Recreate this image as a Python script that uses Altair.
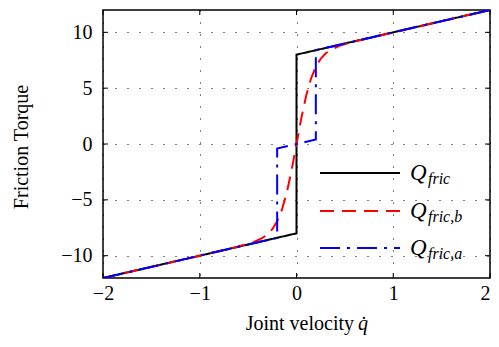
import altair as alt
import pandas as pd

# ---- data ----
q_fric = [-2.0, 0.0, 0.0, 2.0]
t_fric = [-12.0, -8.0, 8.0, 12.0]

q_b = [-2.0, -1.0, -0.6, -0.45, -0.35, -0.3, -0.25, -0.2, -0.15, -0.1, -0.05, 0.0,
       0.05, 0.1, 0.15, 0.2, 0.25, 0.3, 0.35, 0.45, 0.6, 1.0, 2.0]
t_b = [-12.0, -10.0, -9.18, -8.81, -8.41, -8.1, -7.63, -6.92, -5.86, -4.33, -2.32, 0.0,
       2.32, 4.33, 5.86, 6.92, 7.63, 8.1, 8.41, 8.81, 9.18, 10.0, 12.0]

q_a = [-2.0, -0.2, -0.2, 0.2, 0.2, 2.0]
t_a = [-12.0, -8.4, -0.4, 0.4, 8.4, 12.0]

x_ticks = [-2, -1, 0, 1, 2]
y_ticks = [-10, -5, 0, 5, 10]

legend_main = ["Q", "Q", "Q"]
legend_sub = ["fric", "fric,b", "fric,a"]
series_colors = ["#000000", "#ff0000", "#0000ff"]
series_dash = [[1, 0], [14, 8], [20, 7, 3, 7]]

FONT = "Liberation Serif"
W, H = 387, 268

xs = alt.Scale(domain=[-2, 2], nice=False, zero=False)
ys = alt.Scale(domain=[-12, 12], nice=False, zero=False)

xaxis = alt.Axis(values=x_ticks, title=None, grid=True, gridDash=[1, 11], gridColor="black",
                 gridOpacity=1, gridWidth=1, ticks=False, domain=False, labelFont=FONT,
                 labelFontSize=20, labelColor="black", labelPadding=5, labelFlush=False,
                 labelAlign=alt.ExprRef(expr="datum.value == 2 ? 'right' : 'center'"))
yaxis = alt.Axis(values=y_ticks, title=None, grid=True, gridDash=[1, 11], gridColor="black",
                 gridOpacity=1, gridWidth=1, ticks=False, domain=False, labelFont=FONT,
                 labelFontSize=20, labelColor="black", labelPadding=11)

layers = []


def series(q, t, color, dash):
    df = pd.DataFrame({"q": q, "t": t, "i": list(range(len(q)))})
    return alt.Chart(df).mark_line(color=color, strokeWidth=2, strokeDash=dash, clip=True).encode(
        x=alt.X("q:Q", scale=xs, axis=xaxis),
        y=alt.Y("t:Q", scale=ys, axis=yaxis),
        order="i:Q",
    )


layers.append(series(q_fric, t_fric, series_colors[0], series_dash[0]))
layers.append(series(q_b, t_b, series_colors[1], series_dash[1]))
layers.append(series(q_a, t_a, series_colors[2], series_dash[2]))

# inward ticks on all four sides
xt = pd.DataFrame({"v": x_ticks})
yt = pd.DataFrame({"v": y_ticks})
layers.append(alt.Chart(xt).mark_rule(color="black", strokeWidth=1).encode(
    x=alt.X("v:Q", scale=xs, axis=xaxis), y=alt.value(H), y2=alt.value(H - 5)))
layers.append(alt.Chart(xt).mark_rule(color="black", strokeWidth=1).encode(
    x=alt.X("v:Q", scale=xs, axis=xaxis), y=alt.value(0), y2=alt.value(5)))
layers.append(alt.Chart(yt).mark_rule(color="black", strokeWidth=1).encode(
    y=alt.Y("v:Q", scale=ys, axis=yaxis), x=alt.value(0), x2=alt.value(5)))
layers.append(alt.Chart(yt).mark_rule(color="black", strokeWidth=1).encode(
    y=alt.Y("v:Q", scale=ys, axis=yaxis), x=alt.value(W), x2=alt.value(W - 5)))

# manual legend (subscripted labels)
dummy = pd.DataFrame({"a": [0]})
leg_y = [163, 201, 238]
for i in range(3):
    layers.append(alt.Chart(dummy).mark_rule(color=series_colors[i], strokeWidth=2,
                                             strokeDash=series_dash[i]).encode(
        x=alt.value(217), x2=alt.value(297), y=alt.value(leg_y[i])))
    layers.append(alt.Chart(dummy).mark_text(font=FONT, fontSize=23, fontStyle="italic",
                                             align="left", baseline="middle", color="black").encode(
        x=alt.value(307), y=alt.value(leg_y[i]), text=alt.value(legend_main[i])))
    layers.append(alt.Chart(dummy).mark_text(font=FONT, fontSize=16, fontStyle="italic",
                                             align="left", baseline="middle", color="black").encode(
        x=alt.value(325), y=alt.value(leg_y[i] + 6), text=alt.value(legend_sub[i])))

# axis titles
layers.append(alt.Chart(dummy).mark_text(font=FONT, fontSize=20, align="center", baseline="middle",
                                         angle=270, color="black").encode(
    x=alt.value(-81), y=alt.value(137), text=alt.value("Friction Torque")))
layers.append(alt.Chart(dummy).mark_text(font=FONT, fontSize=20, align="right", baseline="middle",
                                         color="black").encode(
    x=alt.value(251), y=alt.value(314), text=alt.value("Joint velocity")))
layers.append(alt.Chart(dummy).mark_text(font=FONT, fontSize=20, fontStyle="italic", align="left",
                                         baseline="middle", color="black").encode(
    x=alt.value(255), y=alt.value(314), text=alt.value("q\u0307")))

chart = alt.layer(*layers).properties(
    width=W, height=H,
    autosize=alt.AutoSizeParams(type="none"),
    padding={"left": 95, "top": 2, "right": 1, "bottom": 60},
    background="white",
).configure_view(stroke="black", strokeWidth=1.5)

chart.save("out.html", embed_options={"renderer": "svg", "actions": False})
